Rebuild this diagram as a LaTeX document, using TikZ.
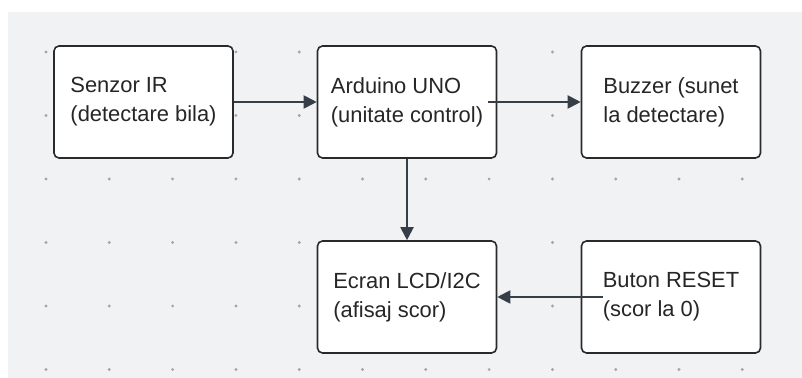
\documentclass[tikz,border=0pt]{standalone}
\usepackage{fontspec}
\setmainfont{Liberation Sans}
\usetikzlibrary{graphs,arrows.meta}
\definecolor{boardgray}{HTML}{F1F2F4}
\definecolor{dotgray}{HTML}{A3A5A8}
\definecolor{edgeline}{HTML}{363E4A}
\definecolor{boxline}{HTML}{2A2A2A}
\tikzset{
    block/.style ={
        shape=rectangle,
        draw=boxline,
        fill=white,
        line width=0.8pt,
        rounded corners=2.5pt,
        minimum width=89.5pt,
        minimum height=56pt,
        align=left,
        text=black!85,
        font=\fontsize{10.95}{14.5}\selectfont
    },
    link/.style ={
        draw=edgeline,
        line width=1pt
    }
}

\begin{document}
\begin{tikzpicture}[x=0.5pt,y=-0.5pt,>={Triangle[length=6.5pt,width=6.5pt]}]
    \useasboundingbox (0,0) rectangle (802,378);
    \fill[boardgray] (8,12) rectangle (802,378);
    \foreach \i in {0,...,11}
        \foreach \j in {0,...,5}
            \fill[dotgray] (46+63.3*\i,52+63.5*\j) circle (0.8pt);
    \node[block] (sen) at(143.5,102) {Senzor IR\\(detectare bila)};
    \node[block] (ard) at(407,102) {Arduino UNO\\(unitate control)};
    \node[block] (buz) at(671,102) {Buzzer (sunet\\la detectare)};
    \node[block] (lcd) at(407,297) {Ecran LCD/I2C\\(afisaj scor)};
    \node[block] (btn) at(671,297) {Buton RESET\\(scor la 0)};
    \coordinate (ardout) at ([xshift=-4.5pt]ard.east);
    \coordinate (btnout) at ([xshift=11pt]btn.west);
    \graph[edges=link]{
        (sen)->(ard)->(lcd);
        (ardout)->(buz);
        (btnout)->(lcd);
    };
\end{tikzpicture}
\end{document}
